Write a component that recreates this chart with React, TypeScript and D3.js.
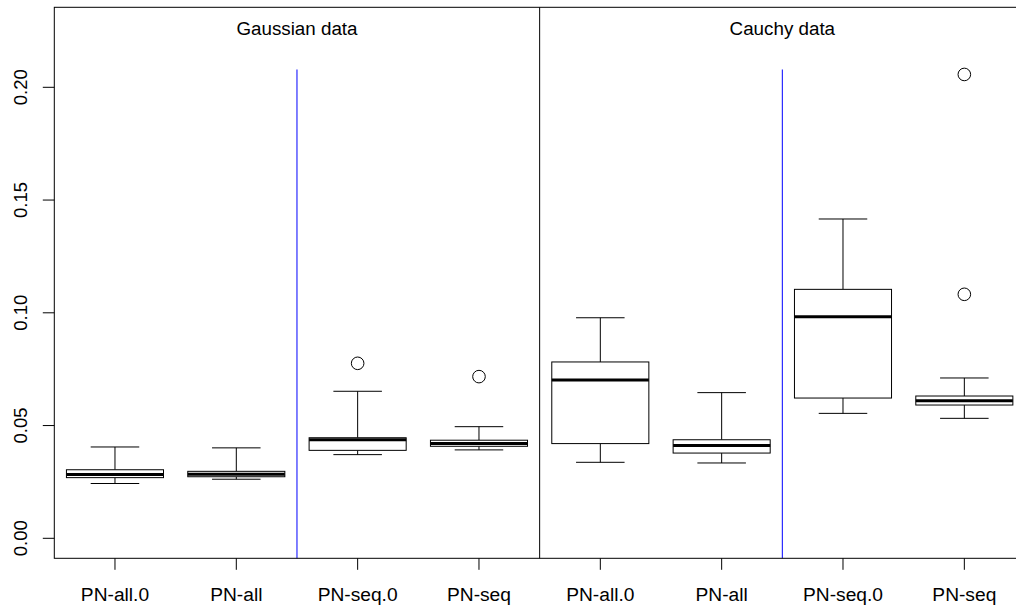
import React, { useEffect } from "react";
import * as d3 from "d3";

const categories = ["PN-all.0", "PN-all", "PN-seq.0", "PN-seq", "PN-all.0", "PN-all", "PN-seq.0", "PN-seq"];
const whiskerLow = [0.0243, 0.0262, 0.0371, 0.0392, 0.0337, 0.0334, 0.0554, 0.0532];
const q1 = [0.0269, 0.0273, 0.039, 0.0408, 0.042, 0.0378, 0.0622, 0.0591];
const medians = [0.0283, 0.0284, 0.0437, 0.042, 0.0702, 0.0412, 0.0983, 0.061];
const q3 = [0.0304, 0.0297, 0.0446, 0.0435, 0.0782, 0.0437, 0.1104, 0.0631];
const whiskerHigh = [0.0405, 0.0401, 0.0652, 0.0495, 0.0978, 0.0646, 0.1416, 0.0711];
const outliers: number[][] = [[], [], [0.0776], [0.0717], [], [], [], [0.1082, 0.2057]];
const yTicks = [0, 0.05, 0.1, 0.15, 0.2];
const panelTitles = ["Gaussian data", "Cauchy data"];
const panelCenters = [2.5, 6.5];
const panelDivider = 4.5;
const blueDividers = [2.5, 6.5];
const blueTop = 0.2079;

const W = 1016;
const H = 610;
const FONT = "Liberation Sans, Arial, Helvetica, sans-serif";

export default function App() {
  useEffect(() => {
    document.body.style.margin = "0";
  }, []);

  const x = d3.scaleLinear().domain([0.5, 8.5]).range([54.3, 1025]);
  const y = d3.scaleLinear().domain([0, 0.1]).range([538.3, 312.8]);
  const unit = x(2) - x(1);
  const boxW = unit * 0.8;
  const capW = boxW * 0.5;
  const top = 7.3;
  const bottom = 558.3;
  const left = 54.3;
  const right = 1025;

  return (
    <svg width={W} height={H} style={{ position: "absolute", left: 0, top: 0, background: "#fff" }} fontFamily={FONT}>
      <rect x={0} y={0} width={W} height={H} fill="#fff" />
      {blueDividers.map((d, i) => (
        <line key={"b" + i} x1={x(d)} x2={x(d)} y1={y(blueTop)} y2={bottom} stroke="#0000ff" strokeWidth={1} />
      ))}
      <line x1={x(panelDivider)} x2={x(panelDivider)} y1={top} y2={bottom} stroke="#000" strokeWidth={1} />
      {panelTitles.map((t, i) => (
        <text key={"t" + i} x={x(panelCenters[i])} y={35} textAnchor="middle" fontSize={18.8} fill="#000">
          {t}
        </text>
      ))}
      {categories.map((c, i) => {
        const cx = x(i + 1);
        return (
          <g key={"box" + i} stroke="#000" fill="none">
            <line x1={cx} x2={cx} y1={y(whiskerHigh[i])} y2={y(q3[i])} strokeWidth={1} />
            <line x1={cx} x2={cx} y1={y(q1[i])} y2={y(whiskerLow[i])} strokeWidth={1} />
            <line x1={cx - capW / 2} x2={cx + capW / 2} y1={y(whiskerHigh[i])} y2={y(whiskerHigh[i])} strokeWidth={1} />
            <line x1={cx - capW / 2} x2={cx + capW / 2} y1={y(whiskerLow[i])} y2={y(whiskerLow[i])} strokeWidth={1} />
            <rect x={cx - boxW / 2} y={y(q3[i])} width={boxW} height={y(q1[i]) - y(q3[i])} fill="#fff" strokeWidth={1} />
            <line x1={cx - boxW / 2} x2={cx + boxW / 2} y1={y(medians[i])} y2={y(medians[i])} strokeWidth={3} />
            {outliers[i].map((o, j) => (
              <circle key={j} cx={cx} cy={y(o)} r={6.3} fill="none" strokeWidth={1} />
            ))}
          </g>
        );
      })}
      <rect x={left} y={top} width={right - left} height={bottom - top} fill="none" stroke="#000" strokeWidth={1} />
      {yTicks.map((t, i) => (
        <g key={"y" + i}>
          <line x1={left - 11.5} x2={left} y1={y(t)} y2={y(t)} stroke="#000" strokeWidth={1} />
          <text transform={`translate(27.3,${y(t)}) rotate(-90)`} textAnchor="middle" fontSize={18.5} fill="#000">
            {d3.format(".2f")(t)}
          </text>
        </g>
      ))}
      {categories.map((c, i) => (
        <g key={"x" + i}>
          <line x1={x(i + 1)} x2={x(i + 1)} y1={bottom} y2={bottom + 11.5} stroke="#000" strokeWidth={1} />
          <text x={x(i + 1)} y={601} textAnchor="middle" fontSize={19.2} fill="#000">
            {c}
          </text>
        </g>
      ))}
    </svg>
  );
}
